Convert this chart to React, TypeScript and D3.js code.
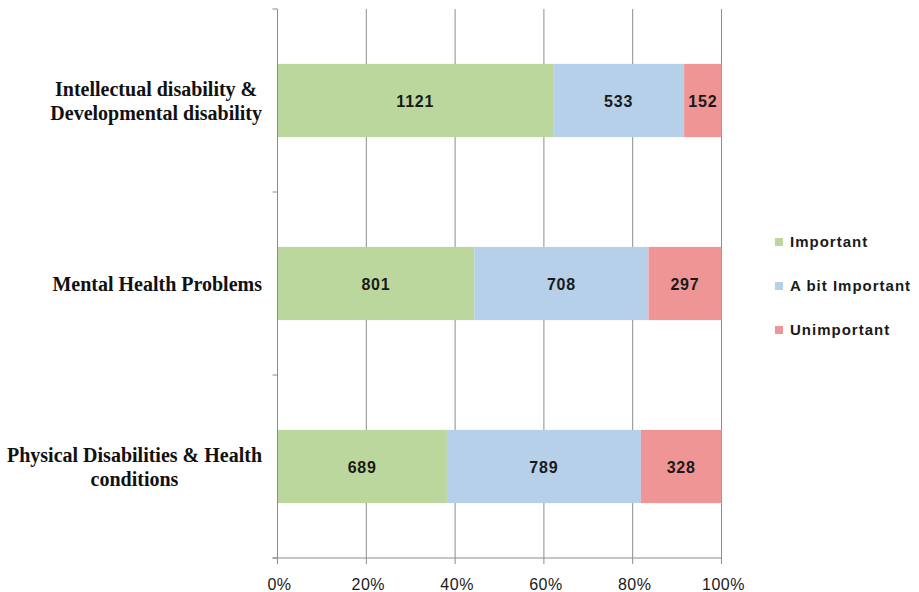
import React, { useEffect, useRef } from 'react';
import * as d3 from 'd3';

const categories = [
  ['Intellectual disability &', 'Developmental disability'],
  ['Mental Health Problems'],
  ['Physical Disabilities & Health', 'conditions'],
];
const seriesNames = ['Important', 'A bit Important', 'Unimportant'];
const important = [1121, 801, 689];
const aBitImportant = [533, 708, 789];
const unimportant = [152, 297, 328];
const tickLabels = ['0%', '20%', '40%', '60%', '80%', '100%'];
const colors = ['#bcd79d', '#b7d0ea', '#ef9595'];

const App = () => {
  const ref = useRef<SVGSVGElement>(null);

  useEffect(() => {
    const svg = d3.select(ref.current);
    svg.selectAll('*').remove();

    const left = 277.5;
    const right = 721.5;
    const top = 9;
    const bottom = 558;

    const series = [important, aBitImportant, unimportant];
    const idx = categories.map((_, i) => i);
    const x = d3.scaleLinear().domain([0, 1]).range([left, right]);
    const y = d3.scaleBand<number>().domain(idx).range([top, bottom]).paddingInner(0.6).paddingOuter(0.3);
    const yAxisScale = d3.scaleBand<number>().domain(idx).range([top, bottom]);

    // gridlines
    const ticks = d3.range(0, 1.0001, 0.2);
    svg.append('g')
      .selectAll('line')
      .data(ticks)
      .enter()
      .append('line')
      .attr('x1', d => x(d))
      .attr('x2', d => x(d))
      .attr('y1', top)
      .attr('y2', bottom + 6)
      .attr('stroke', '#8c8c8c')
      .attr('stroke-width', 1);

    // bars
    idx.forEach(i => {
      const total = d3.sum(series, s => s[i]);
      let acc = 0;
      series.forEach((s, k) => {
        const v = s[i] / total;
        const x0 = x(acc);
        const x1 = x(acc + v);
        svg.append('rect')
          .attr('x', x0)
          .attr('y', y(i)!)
          .attr('width', x1 - x0)
          .attr('height', y.bandwidth())
          .attr('fill', colors[k]);
        svg.append('text')
          .attr('x', (x0 + x1) / 2)
          .attr('y', y(i)! + y.bandwidth() / 2 + 1)
          .attr('dy', '0.35em')
          .attr('text-anchor', 'middle')
          .attr('font-family', 'Liberation Sans, Arial, sans-serif')
          .attr('font-weight', 'bold')
          .attr('font-size', 16)
          .attr('letter-spacing', 0.8)
          .attr('fill', '#1a1a1a')
          .text(s[i]);
        acc += v;
      });
    });

    // y axis
    svg.append('line')
      .attr('x1', left).attr('x2', left)
      .attr('y1', top).attr('y2', bottom)
      .attr('stroke', '#8c8c8c');
    const yTicks = idx.map(i => yAxisScale(i)!).concat([bottom]);
    svg.append('g')
      .selectAll('line')
      .data(yTicks)
      .enter()
      .append('line')
      .attr('x1', left - 5).attr('x2', left)
      .attr('y1', d => d).attr('y2', d => d)
      .attr('stroke', '#8c8c8c');

    // x axis
    svg.append('line')
      .attr('x1', left - 5).attr('x2', right)
      .attr('y1', bottom).attr('y2', bottom)
      .attr('stroke', '#8c8c8c');

    svg.append('g')
      .selectAll('text')
      .data(ticks)
      .enter()
      .append('text')
      .attr('x', d => x(d) + 2)
      .attr('y', bottom + 32)
      .attr('text-anchor', 'middle')
      .attr('font-family', 'Liberation Sans, Arial, sans-serif')
      .attr('font-size', 16)
      .attr('letter-spacing', 0.5)
      .attr('fill', '#1a1a1a')
      .text((_, i) => tickLabels[i]);

    // category labels: block right-aligned, lines centred within block
    const labelRight = 262;
    idx.forEach(i => {
      const lines = categories[i];
      const cy = y(i)! + y.bandwidth() / 2;
      const lh = 24;
      const t = svg.append('text')
        .attr('text-anchor', 'middle')
        .attr('font-family', 'Liberation Serif, Times New Roman, serif')
        .attr('font-weight', 'bold')
        .attr('font-size', 20)
        .attr('fill', '#111');
      const spans = lines.map((ln, j) =>
        t.append('tspan')
          .attr('y', cy + (j - (lines.length - 1) / 2) * lh)
          .attr('dy', '0.35em')
          .text(ln)
      );
      const maxW = d3.max(spans, s => (s.node() as SVGTSpanElement).getComputedTextLength()) || 0;
      spans.forEach(s => s.attr('x', labelRight - maxW / 2));
    });

    // legend
    const legendY = [242, 286, 330];
    seriesNames.forEach((name, k) => {
      svg.append('rect')
        .attr('x', 775)
        .attr('y', legendY[k] - 4)
        .attr('width', 8)
        .attr('height', 8)
        .attr('fill', colors[k]);
      svg.append('text')
        .attr('x', 790)
        .attr('y', legendY[k])
        .attr('dy', '0.35em')
        .attr('font-family', 'Liberation Sans, Arial, sans-serif')
        .attr('font-weight', 'bold')
        .attr('font-size', 15)
        .attr('letter-spacing', 1)
        .attr('fill', '#1a1a1a')
        .text(name);
    });
  }, []);

  return (
    <svg
      ref={ref}
      width={919}
      height={592}
      style={{ position: 'absolute', left: 0, top: 0, background: '#fff' }}
    ></svg>
  );
};

export default App;
